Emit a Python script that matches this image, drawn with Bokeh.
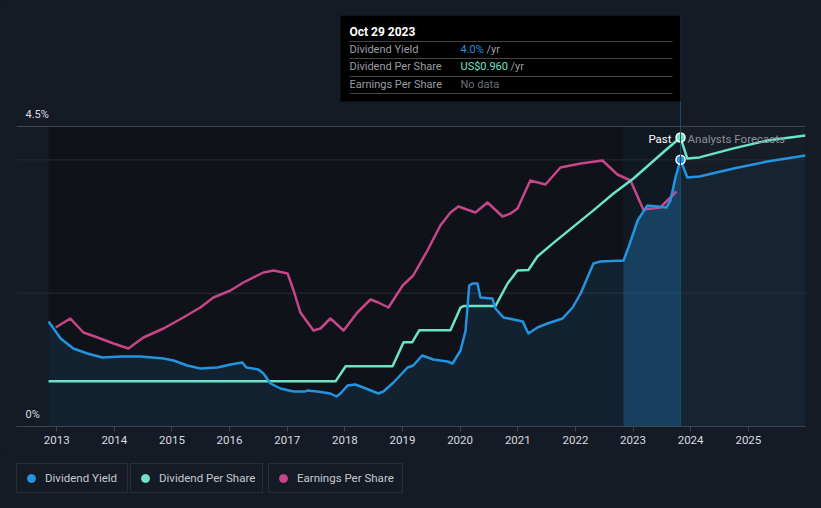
import pandas as pd
from bokeh.plotting import figure
from bokeh.layouts import column
from bokeh.models import (Range1d, FixedTicker, DatetimeTickFormatter, Span,
                          BoxAnnotation, Label, Legend, LegendItem)
from bokeh.embed import file_html
from bokeh.resources import INLINE

# ---------------- data ----------------
yield_dates = ["2012-11-10", "2013-01-26", "2013-04-16", "2013-07-14", "2013-10-18",
               "2014-02-10", "2014-06-15", "2014-11-09", "2015-01-11", "2015-04-08",
               "2015-06-30", "2015-10-16", "2016-01-07", "2016-03-22", "2016-04-17",
               "2016-07-02", "2016-08-03", "2016-09-17", "2016-11-19", "2017-02-10",
               "2017-04-25", "2017-05-08", "2017-07-10", "2017-10-01", "2017-11-09",
               "2017-12-04", "2018-01-18", "2018-03-08", "2018-04-28", "2018-08-01",
               "2018-09-02", "2018-11-05", "2019-02-02", "2019-03-10", "2019-05-06",
               "2019-07-15", "2019-10-13", "2019-11-14", "2020-01-04", "2020-02-05",
               "2020-02-28", "2020-03-19", "2020-04-20", "2020-05-09", "2020-07-24",
               "2020-08-12", "2020-10-02", "2020-12-05", "2021-02-01", "2021-03-09",
               "2021-05-05", "2021-07-08", "2021-10-11", "2021-12-14", "2022-02-03",
               "2022-04-25", "2022-06-08", "2022-11-02", "2022-12-03", "2023-01-30",
               "2023-04-02", "2023-06-04", "2023-07-31", "2023-08-26", "2023-09-27",
               "2023-10-29", "2023-12-11", "2024-02-26", "2024-09-29", "2025-05-01",
               "2025-12-29"]
yield_pct = [1.575, 1.32, 1.17, 1.095, 1.035,
             1.05, 1.05, 1.02, 0.99, 0.915,
             0.87, 0.885, 0.93, 0.96, 0.885,
             0.855, 0.795, 0.645, 0.57, 0.525,
             0.525, 0.54, 0.525, 0.495, 0.45,
             0.495, 0.615, 0.63, 0.585, 0.495,
             0.525, 0.66, 0.885, 0.915, 1.065,
             1.005, 0.975, 0.945, 1.14, 1.44,
             2.115, 2.145, 2.145, 1.935, 1.92,
             1.77, 1.635, 1.605, 1.575, 1.395,
             1.485, 1.545, 1.62, 1.785, 1.995,
             2.445, 2.475, 2.49, 2.685, 3.09,
             3.315, 3.30, 3.285, 3.39, 3.735,
             4.0, 3.735, 3.75, 3.87, 3.975,
             4.065]

dps_dates = ["2012-11-10", "2017-11-03", "2018-01-06", "2018-10-30", "2019-01-08",
             "2019-03-04", "2019-04-18", "2019-11-01", "2020-01-04", "2020-01-23",
             "2020-08-12", "2020-10-28", "2020-12-30", "2021-03-09", "2021-05-05",
             "2021-08-15", "2022-04-25", "2022-08-30", "2023-01-04", "2023-07-24",
             "2023-10-29", "2023-12-11", "2024-02-26", "2024-09-29", "2025-05-01",
             "2025-12-29"]
dps_usd = [0.15, 0.15, 0.20, 0.20, 0.28,
           0.28, 0.32, 0.32, 0.395, 0.40,
           0.40, 0.475, 0.518, 0.52, 0.565,
           0.61, 0.718, 0.774, 0.824, 0.917,
           0.960, 0.89, 0.894, 0.924, 0.95,
           0.967]

eps_dates = ["2012-12-25", "2013-03-28", "2013-06-19", "2013-09-17", "2013-12-27",
             "2014-03-31", "2014-07-04", "2014-11-09", "2015-03-14", "2015-06-30",
             "2015-09-21", "2016-01-07", "2016-03-29", "2016-08-03", "2016-10-06",
             "2017-01-03", "2017-02-10", "2017-03-25", "2017-06-16", "2017-07-30",
             "2017-10-01", "2017-12-24", "2018-03-21", "2018-06-12", "2018-08-01",
             "2018-10-04", "2019-01-02", "2019-03-10", "2019-06-08", "2019-08-29",
             "2019-11-01", "2019-12-21", "2020-04-07", "2020-06-23", "2020-09-26",
             "2020-11-16", "2020-12-30", "2021-03-21", "2021-06-25", "2021-09-28",
             "2022-02-03", "2022-06-21", "2022-09-24", "2022-12-16", "2023-03-07",
             "2023-06-23", "2023-10-03"]
eps_usd = [0.99, 1.08, 0.94, 0.89, 0.83,
           0.78, 0.89, 0.98, 1.09, 1.19,
           1.29, 1.36, 1.44, 1.54, 1.56,
           1.53, 1.36, 1.14, 0.96, 0.98,
           1.08, 0.96, 1.14, 1.27, 1.24,
           1.19, 1.41, 1.51, 1.76, 2.01,
           2.14, 2.20, 2.14, 2.24, 2.10,
           2.13, 2.18, 2.46, 2.42, 2.59,
           2.63, 2.66, 2.52, 2.46, 2.17,
           2.19, 2.35]

year_ticks = list(range(2013, 2026))
hover_date = "2023-10-29"
hover_yield = 4.0
hover_dps = 0.960
top_line_pct = 4.5
grid_pct = [2, 4]
legend_names = ["Dividend Yield", "Dividend Per Share", "Earnings Per Share"]

# ---------------- style ----------------
BG = "#151b25"
PAST_BG = "#0f1218"
FC_BG = "#161d27"
BLUE = "#2394df"
TEAL = "#6ce3c6"
PINK = "#c6468a"
FONT = "Roboto"
BG_STYLE = {"background-color": BG}


def ms(t):
    return pd.Timestamp(t).timestamp() * 1000.0


yd = pd.to_datetime(yield_dates)
dd = pd.to_datetime(dps_dates)
ed = pd.to_datetime(eps_dates)
hv = pd.Timestamp(hover_date)
band_start = hv - pd.DateOffset(years=1)

x_start = pd.Timestamp("2012-04-21")
x_end = pd.Timestamp("2025-12-29")

FRAME_H = 411  # pixels
PCT_PX = 300 / 4.5
DPS_PX = 301.0
EPS_PX = 100.0

p = figure(width=821, height=452, x_axis_type="datetime", output_backend="svg",
           toolbar_location=None, title=None, y_axis_location=None,
           x_range=Range1d(ms(x_start), ms(x_end)),
           y_range=Range1d(0, FRAME_H / PCT_PX),
           min_border_left=16, min_border_right=16, min_border_top=15,
           min_border_bottom=26, styles=BG_STYLE)
p.extra_y_ranges = {"dps": Range1d(0, FRAME_H / DPS_PX),
                    "eps": Range1d(0, FRAME_H / EPS_PX)}
p.background_fill_color = BG
p.border_fill_color = BG
p.outline_line_color = None
p.xgrid.visible = False
p.ygrid.visible = False

# backgrounds
p.add_layout(BoxAnnotation(left=ms(yd[0]), right=ms(hv), bottom=0, top=top_line_pct,
                           fill_color=PAST_BG, fill_alpha=1, line_color=None, level="underlay"))
p.add_layout(BoxAnnotation(left=ms(hv), right=ms(x_end), bottom=0, top=top_line_pct,
                           fill_color=FC_BG, fill_alpha=1, line_color=None, level="underlay"))
p.add_layout(BoxAnnotation(left=ms(band_start), right=ms(hv), bottom=0, top=top_line_pct,
                           fill_color=BLUE, fill_alpha=0.05, line_color=None, level="underlay"))
for g in grid_pct:
    p.add_layout(Span(location=g, dimension="width", line_color="#262c35",
                      line_width=1, level="underlay"))
p.add_layout(Span(location=top_line_pct, dimension="width", line_color="#40464f",
                  line_width=1, level="underlay"))

# yield area
past = yd <= hv
band = (yd >= band_start) & (yd <= hv)
fc = yd >= hv
ys = pd.Series(yield_pct)
p.varea(x=yd[past], y1=0, y2=ys[past].values, fill_color=BLUE, fill_alpha=0.13)
p.varea(x=yd[band], y1=0, y2=ys[band].values, fill_color=BLUE, fill_alpha=0.22)
p.varea(x=yd[fc], y1=0, y2=ys[fc].values, fill_color=BLUE, fill_alpha=0.05)

# lines
p.line(ed, eps_usd, line_color=PINK, line_width=2.5, line_join="round", y_range_name="eps")
p.line(dd, dps_usd, line_color=TEAL, line_width=2.5, line_join="round", y_range_name="dps")
p.line(yd, yield_pct, line_color=BLUE, line_width=2.5, line_join="round")

# hover line
p.add_layout(Span(location=ms(hv), dimension="height", line_color="#1f4a6b", line_width=1))

p.scatter([hv], [hover_dps], size=9, fill_color=TEAL, line_color="white",
          line_width=1.5, y_range_name="dps")
p.scatter([hv], [hover_yield], size=9, fill_color=BLUE, line_color="white", line_width=1.5)

p.add_layout(Label(x=ms(hv), y=top_line_pct, x_offset=-9, y_offset=-12, text="Past",
                   text_align="right", text_baseline="middle", text_color="#ffffff",
                   text_font=FONT, text_font_size="11.5px"))
p.add_layout(Label(x=ms(hv), y=top_line_pct, x_offset=7, y_offset=-12, text="Analysts Forecasts",
                   text_align="left", text_baseline="middle", text_color="#8b9098",
                   text_font=FONT, text_font_size="11.5px"))

# y labels
for v, t in [(top_line_pct, "4.5%"), (0, "0%")]:
    p.add_layout(Label(x=9, x_units="screen", y=v, y_offset=12, text=t,
                       text_baseline="middle", text_color="#d9dce0",
                       text_font=FONT, text_font_size="11px"))

# tooltip
p.add_layout(BoxAnnotation(left=324, left_units="screen", right=ms(hv),
                           top=411, top_units="screen", bottom=325, bottom_units="screen",
                           fill_color="#000000", fill_alpha=1, line_color=None))
for sy in [385, 368, 350, 333]:
    p.add_layout(BoxAnnotation(left=333, left_units="screen", right=656, right_units="screen",
                               top=sy + 0.5, top_units="screen", bottom=sy - 0.5,
                               bottom_units="screen", fill_color="#444444", fill_alpha=1,
                               line_color=None))


def tlabel(sx, sy, text, color, size="11px", style="normal"):
    p.add_layout(Label(x=sx, y=sy, x_units="screen", y_units="screen", text=text,
                       text_color=color, text_font=FONT, text_font_size=size,
                       text_font_style=style, text_baseline="middle"))


tlabel(333, 395, hv.strftime("%b %d %Y"), "#ffffff", "12px", "bold")
tlabel(333, 377, "Dividend Yield", "#9a9ea5")
tlabel(444, 377, f"{hover_yield:.1f}%", BLUE)
tlabel(470, 377, "/yr", "#9a9ea5")
tlabel(333, 360, "Dividend Per Share", "#9a9ea5")
tlabel(444, 360, f"US${hover_dps:.3f}", TEAL)
tlabel(494, 360, "/yr", "#9a9ea5")
tlabel(333, 342, "Earnings Per Share", "#9a9ea5")
tlabel(444, 342, "No data", "#6c7077")

# x axis
ax = p.xaxis[0]
ax.ticker = FixedTicker(ticks=[ms(f"{y}-01-01") for y in year_ticks])
ax.formatter = DatetimeTickFormatter(years="%Y", months="%Y", days="%Y", hours="%Y",
                                     minutes="%Y", seconds="%Y", milliseconds="%Y",
                                     microseconds="%Y", minsec="%Y", hourmin="%Y")
ax.axis_line_color = "#3e444c"
ax.major_tick_line_color = "#3e444c"
ax.major_tick_out = 5
ax.major_tick_in = 0
ax.minor_tick_line_color = None
ax.major_label_text_color = "#d8dbe0"
ax.major_label_text_font = FONT
ax.major_label_text_font_size = "11.5px"
ax.major_label_standoff = 4

# legend strip
p2 = figure(width=821, height=56, output_backend="svg", toolbar_location=None,
            title=None, x_axis_location=None, y_axis_location=None,
            min_border_left=16, min_border_right=16, min_border_top=0, min_border_bottom=0,
            x_range=Range1d(0, 1), y_range=Range1d(0, 1), styles=BG_STYLE)
p2.background_fill_color = BG
p2.background_fill_alpha = 1
p2.border_fill_color = BG
p2.outline_line_color = None
p2.grid.visible = False

for name, color, x0, lw in zip(legend_names, [BLUE, TEAL, PINK], [0, 114, 252], [78, 99, 101]):
    # one off-screen point so that the legend can draw its dot
    r = p2.scatter(x=[-5], y=[-5], marker="circle", size=8, fill_color=color, line_color=color)
    leg = Legend(items=[LegendItem(label=name, renderers=[r])], location=(x0, 15),
                 orientation="horizontal", padding=4, margin=0, glyph_width=20,
                 glyph_height=20, label_standoff=4, label_width=lw, label_height=20,
                 label_text_font=FONT, label_text_font_size="11.5px",
                 label_text_color="#c5c9cf", border_line_color="#3b4048",
                 border_line_width=1, background_fill_color=BG, background_fill_alpha=1)
    p2.add_layout(leg)

layout = column(p, p2, spacing=0, styles=BG_STYLE)
open("out.html", "w").write(file_html(layout, INLINE))
